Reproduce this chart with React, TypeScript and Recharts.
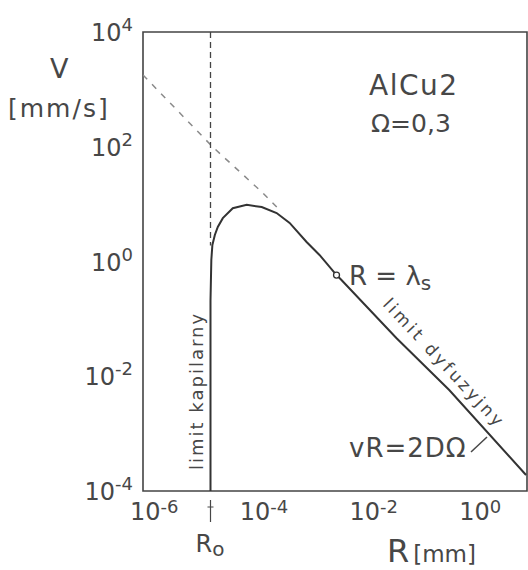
import {
  Line,
  LineChart,
  ReferenceArea,
  ReferenceDot,
  XAxis,
  YAxis,
} from "recharts";

// critical radius (capillary limit) and the R = lambda_s marker
const R0 = 1.7e-5;
const lambdaS = { R: 3.37e-3, v: 0.58 };

// growth rate curve
const curveR = [
  1.7e-5, 1.7e-5, 1.7e-5, 1.76e-5, 1.84e-5, 2.04e-5, 2.31e-5, 2.85e-5, 4.33e-5, 7.78e-5,
  1.46e-4, 2.73e-4, 4.71e-4, 9.6e-4, 1.65e-3, 3.37e-3, 4.15e-3, 0.0415, 0.382, 9.6,
];
const curveV = [
  1e-4, 8.6e-3, 0.21, 1.06, 1.94, 2.9, 4.0, 5.7, 8.5, 9.7,
  8.9, 7.0, 4.7, 2.19, 1.3, 0.58, 0.476, 0.0465, 5.75e-3, 1.9e-4,
];

// diffusion limit asymptote (dashed part)
const asymR = [1e-6, 1.87e-5, 1.46e-4, 3.1e-4];
const asymV = [1780, 99, 16.3, 7.9];

// dashed vertical at R0 above the curve
const capV = [1e4, 1.9];

const xTickExps = [-6, -4, -2, 0];
const yTickExps = [-4, -2, 0, 2, 4];

const curve = curveR.map((R, i) => ({ R, v: curveV[i] }));
const asym = asymR.map((R, i) => ({ R, v: asymV[i] }));
const cap = capV.map((v) => ({ R: R0, v }));

const font = "'DejaVu Sans', sans-serif";
const ink = "#474747";

function XTick(props: any) {
  const { x, y, payload } = props;
  if (payload.value === R0) {
    return (
      <g>
        <line x1={x} x2={x} y1={y + 9} y2={y + 31} stroke={ink} strokeWidth={1.2} />
        <line x1={x - 3} x2={x + 3} y1={y + 16} y2={y + 16} stroke={ink} strokeWidth={1} />
        <text x={x - 15} y={y + 61} fontFamily={font} fontSize={24} fill={ink}>
          R
          <tspan fontSize={20} dy={4}>o</tspan>
        </text>
      </g>
    );
  }
  const e = Math.round(Math.log10(payload.value));
  return (
    <text x={x - 13} y={y + 29} fontFamily={font} fontSize={24} fill={ink}>
      10
      <tspan fontSize={18} dy={-7}>{e}</tspan>
    </text>
  );
}

function YTick(props: any) {
  const { x, y, payload } = props;
  const e = Math.round(Math.log10(payload.value));
  return (
    <text x={x} y={y + 9} textAnchor="end" fontFamily={font} fontSize={24} fill={ink}>
      10
      <tspan fontSize={18} dy={-10}>{e}</tspan>
    </text>
  );
}

export default function App() {
  return (
    <div style={{ position: "absolute", left: 0, top: 0, background: "#fff" }}>
      <LineChart width={528} height={570} margin={{ top: 32, right: 1, bottom: 0, left: 0 }}>
        <XAxis
          type="number"
          dataKey="R"
          scale="log"
          domain={[1e-6, 10]}
          allowDataOverflow
          ticks={[...xTickExps.map((e) => 10 ** e), R0]}
          tick={(p: any) => <XTick {...p} />}
          tickLine={false}
          axisLine={false}
          tickSize={0}
          tickMargin={0}
          height={79}
          interval={0}
        />
        <YAxis
          type="number"
          dataKey="v"
          scale="log"
          domain={[1e-4, 1e4]}
          allowDataOverflow
          ticks={yTickExps.map((e) => 10 ** e)}
          tick={(p: any) => <YTick {...p} />}
          tickLine={false}
          axisLine={false}
          tickSize={0}
          tickMargin={10}
          width={143}
          interval={0}
        />
        <ReferenceArea
          x1={1e-6}
          x2={10}
          y1={1e-4}
          y2={1e4}
          fill="none"
          stroke="#444"
          strokeWidth={1.6}
          fillOpacity={0}
          ifOverflow="visible"
        />
        <Line
          data={asym}
          dataKey="v"
          type="linear"
          stroke="#8a8a8a"
          strokeWidth={1.5}
          strokeDasharray="6 7"
          dot={false}
          isAnimationActive={false}
        />
        <Line
          data={cap}
          dataKey="v"
          type="linear"
          stroke="#444"
          strokeWidth={1.3}
          strokeDasharray="6 4"
          dot={false}
          isAnimationActive={false}
        />
        <Line
          data={curve}
          dataKey="v"
          type="linear"
          stroke="#333"
          strokeWidth={2}
          dot={false}
          isAnimationActive={false}
        />
        <ReferenceDot
          x={lambdaS.R}
          y={lambdaS.v}
          r={3}
          fill="#fff"
          stroke="#333"
          strokeWidth={1.3}
        />

        <text x={50} y={78} fontFamily={font} fontSize={27} fill={ink}>V</text>
        <text x={8} y={117} fontFamily={font} fontSize={25} fill={ink} letterSpacing={2}>[mm/s]</text>
        <text x={369} y={95} fontFamily={font} fontSize={28} fill={ink} letterSpacing={1.5}>AlCu2</text>
        <text x={371} y={132} fontFamily={font} fontSize={25} fill={ink}>Ω=0,3</text>
        <text x={349} y={285} fontFamily={font} fontSize={26} fill={ink}>
          R = λ<tspan fontSize={20} dy={5}>s</tspan>
        </text>
        <text
          x={382}
          y={305}
          fontFamily={font}
          fontSize={17}
          fill={ink}
          letterSpacing={3}
          transform="rotate(47 382 305)"
        >
          limit dyfuzyjny
        </text>
        <text
          x={203}
          y={470}
          fontFamily={font}
          fontSize={18}
          fill={ink}
          letterSpacing={2}
          transform="rotate(-90 203 470)"
        >
          limit kapilarny
        </text>
        <text x={349} y={457} fontFamily={font} fontSize={26} fill={ink} letterSpacing={1}>vR=2DΩ</text>
        <line x1={471} y1={452} x2={487} y2={437} stroke={ink} strokeWidth={1.5} />
        <text x={387} y={562} fontFamily={font} fontSize={32} fill={ink}>
          R<tspan fontSize={23} dx={4}>[mm]</tspan>
        </text>
      </LineChart>
    </div>
  );
}
